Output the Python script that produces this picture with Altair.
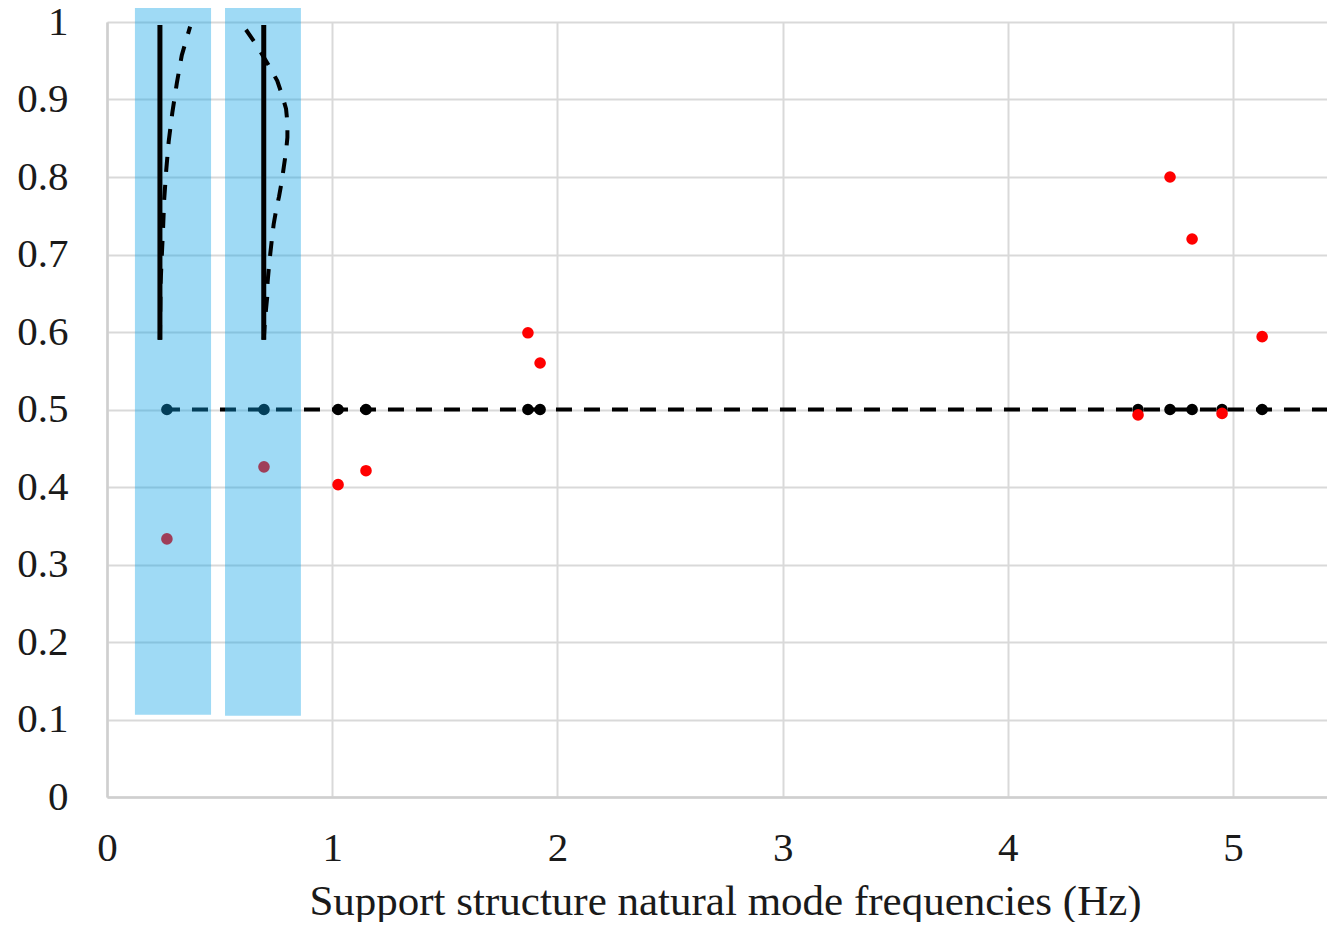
import altair as alt
import pandas as pd

FONT = "Liberation Serif"
x_ticks = [0, 1, 2, 3, 4, 5]
y_ticks = [0, 0.1, 0.2, 0.3, 0.4, 0.5, 0.6, 0.7, 0.8, 0.9, 1]

freqs = [0.266, 0.697, 1.026, 1.150, 1.869, 1.923, 4.578, 4.720, 4.818, 4.951, 5.129]
black_y = [0.5] * 11
red_y = [0.333, 0.426, 0.403, 0.421, 0.599, 0.560, 0.493, 0.800, 0.720, 0.495, 0.594]

band_x1 = [0.124, 0.524]
band_x2 = [0.462, 0.861]
band_y1 = [0.106, 0.105]
band_y2 = [1.03, 1.03]

ref_x = [0.253, 5.46]
ref_y = [0.5, 0.5]

solid1_x = [0.235, 0.235]
solid2_x = [0.696, 0.696]
solid_y = [0.59, 0.996]

curve1_x = [0.235, 0.238, 0.243, 0.249, 0.254, 0.263, 0.274, 0.290, 0.310, 0.332, 0.369]
curve1_y = [0.590, 0.663, 0.696, 0.734, 0.771, 0.809, 0.846, 0.883, 0.921, 0.957, 0.994]

curve2_x = [0.696, 0.700, 0.705, 0.712, 0.713, 0.719, 0.725, 0.733, 0.740, 0.752, 0.764, 0.777,
            0.785, 0.795, 0.801, 0.801, 0.795, 0.776, 0.756, 0.724, 0.687, 0.657, 0.617]
curve2_y = [0.590, 0.609, 0.626, 0.647, 0.664, 0.684, 0.701, 0.722, 0.739, 0.759, 0.775, 0.796,
            0.813, 0.833, 0.851, 0.870, 0.888, 0.907, 0.924, 0.941, 0.959, 0.973, 0.990]

xs = alt.Scale(domain=[0, 5.417], nice=False, zero=False)
ys = alt.Scale(domain=[0, 1], nice=False, zero=False)

x_axis = alt.Axis(values=x_ticks, format="~g", title="Support structure natural mode frequencies (Hz)",
                  grid=True, gridColor="#D9D9D9", gridWidth=2, ticks=False,
                  domainColor="#CFCFCF", domainWidth=2.5, labelFont=FONT, labelFontSize=41,
                  labelColor="#1a1a1a", labelPadding=31, labelFlush=False, labelOverlap=False,
                  titleFont=FONT, titleFontSize=43, titleFontWeight="normal", titleColor="#1a1a1a",
                  titlePadding=12, titleX=618)
y_axis = alt.Axis(values=y_ticks, format="~g", title=None, grid=True, gridColor="#D9D9D9", gridWidth=2,
                  ticks=False, domainColor="#CFCFCF", domainWidth=2.5, labelFont=FONT, labelFontSize=41,
                  labelColor="#1a1a1a", labelPadding=39, labelFlush=False, labelOverlap=False)

def line(xv, yv, width, dash=None):
    df = pd.DataFrame({"x": xv, "y": yv, "i": range(len(xv))})
    kw = {"strokeDash": dash} if dash else {}
    return alt.Chart(df).mark_line(color="black", strokeWidth=width, clip=False, **kw).encode(
        x=alt.X("x:Q", scale=xs, axis=x_axis),
        y=alt.Y("y:Q", scale=ys, axis=y_axis),
        order="i:Q",
    )

def dots(xv, yv, colour):
    df = pd.DataFrame({"x": xv, "y": yv})
    return alt.Chart(df).mark_point(filled=True, opacity=1, size=135, color=colour, shape="circle").encode(
        x=alt.X("x:Q", scale=xs, axis=x_axis),
        y=alt.Y("y:Q", scale=ys, axis=y_axis),
    )

bands_df = pd.DataFrame({"x": band_x1, "x2": band_x2, "y": band_y1, "y2": band_y2})
bands = alt.Chart(bands_df).mark_rect(color="#089FE6", opacity=0.39, clip=False).encode(
    x=alt.X("x:Q", scale=xs, axis=x_axis), x2="x2:Q",
    y=alt.Y("y:Q", scale=ys, axis=y_axis), y2="y2:Q",
)

chart = alt.layer(
    line(ref_x, ref_y, 4, [16, 12]),
    dots(freqs, black_y, "black"),
    dots(freqs, red_y, "#FF0000"),
    bands,
    line(curve1_x, curve1_y, 4, [15, 13]),
    line(curve2_x, curve2_y, 4, [15, 13]),
    line(solid1_x, solid_y, 5),
    line(solid2_x, solid_y, 5),
).properties(
    width=1220, height=775,
    padding={"left": 99, "top": 14, "right": 0, "bottom": 125},
    autosize=alt.AutoSizeParams(type="none"),
).configure_view(stroke=None)

chart.save("out.html", embed_options={"renderer": "svg", "actions": False})
